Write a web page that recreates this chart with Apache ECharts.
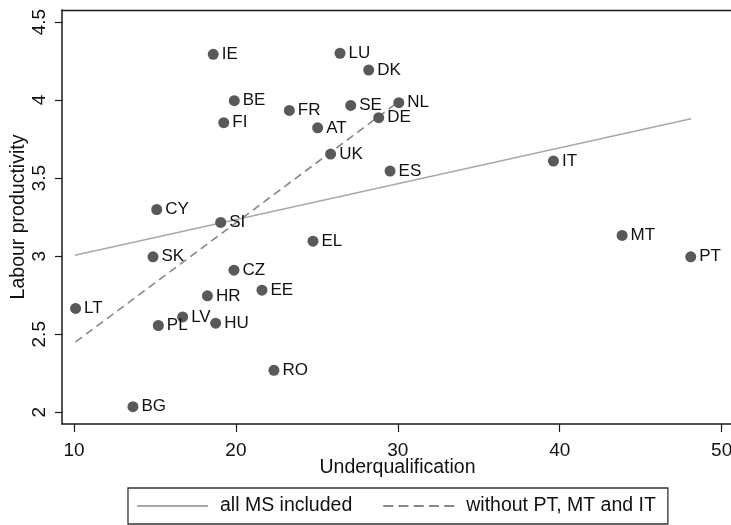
<!DOCTYPE html>
<html>
<head>
<meta charset="utf-8">
<script src="https://cdn.jsdelivr.net/npm/echarts@6/dist/echarts.min.js"></script>
<style>
html,body{margin:0;padding:0;background:#fff;}
#chart{width:731px;height:525px;}
</style>
</head>
<body>
<div id="chart"></div>
<script>
const countries = ['IE','LU','DK','BE','FI','FR','SE','NL','DE','AT','UK','ES','IT','MT','PT','CY','SI','SK','EL','CZ','EE','HR','LT','LV','PL','HU','RO','BG'];
const underqualification = [18.60,26.43,28.20,19.90,19.25,23.30,27.09,30.06,28.82,25.05,25.85,29.52,39.61,43.85,48.09,15.11,19.06,14.88,24.76,19.88,21.61,18.24,10.10,16.71,15.21,18.75,22.35,13.64];
const productivity = [4.293,4.30,4.192,3.996,3.855,3.934,3.966,3.983,3.887,3.822,3.654,3.545,3.609,3.133,2.996,3.299,3.216,2.996,3.096,2.91,2.782,2.746,2.665,2.611,2.556,2.571,2.269,2.036];
const fitAllX = [10.06, 48.11];
const fitAllY = [3.006, 3.880];
const fitSubX = [10.10, 30.06];
const fitSubY = [2.451, 3.990];
const xTicks = [10,20,30,40,50];
const yTicks = [2,2.5,3,3.5,4,4.5];
const seriesNames = ['all MS included','without PT, MT and IT'];

const font = 'Arial, "Liberation Sans", sans-serif';
const chart = echarts.init(document.getElementById('chart'), null, {renderer:'canvas'});
const pts = countries.map((c,i)=>[underqualification[i], productivity[i], c]);
const xMin = 9.26, xMax = 50.70;
const solidIcon = 'path://M0,0h71v2h-71z';
const dashIcon = 'path://M0,0h10v2h-10z M15.25,0h10v2h-10z M30.5,0h10v2h-10z M45.75,0h10v2h-10z M61,0h10v2h-10z';
chart.setOption({
  animation:false,
  backgroundColor:'#fff',
  textStyle:{fontFamily:font},
  grid:{left:62, top:10, width:671, bottom:101, show:false, outerBoundsMode:'none', containLabel:false},
  xAxis:[{
    type:'value', min:xMin, max:xMax,
    splitLine:{show:false},
    axisLine:{lineStyle:{color:'#1a1a1a', width:1.5}},
    axisTick:{customValues:xTicks, length:8, lineStyle:{color:'#1a1a1a', width:1.2}},
    axisLabel:{customValues:xTicks, margin:17, color:'#111', fontSize:19, fontFamily:font},
    name:'Underqualification', nameLocation:'middle', nameGap:34, nameMoveOverlap:false,
    nameTextStyle:{color:'#111', fontSize:19.5, fontFamily:font}
  },{
    type:'value', min:xMin, max:xMax, position:'top',
    splitLine:{show:false},
    axisLine:{show:true, lineStyle:{color:'#1a1a1a', width:1.3}},
    axisTick:{show:false}, axisLabel:{show:false}
  }],
  yAxis:{
    type:'value', min:1.925, max:4.577,
    splitLine:{show:false},
    axisLine:{show:true, lineStyle:{color:'#1a1a1a', width:1.5}},
    axisTick:{show:true, customValues:yTicks, length:7, lineStyle:{color:'#1a1a1a', width:1.2}},
    axisLabel:{customValues:yTicks, rotate:90, margin:13, color:'#111', fontSize:19, fontFamily:font},
    name:'Labour productivity', nameLocation:'middle', nameGap:33, nameRotate:90, nameMoveOverlap:false,
    nameTextStyle:{color:'#111', fontSize:19.5, fontFamily:font}
  },
  legend:{
    data:[{name:seriesNames[0], icon:solidIcon},{name:seriesNames[1], icon:dashIcon}],
    left:128, top:488,
    orient:'horizontal',
    padding:[8,12,8,9],
    itemWidth:71, itemHeight:2, itemGap:31,
    borderColor:'#333', borderWidth:1.3,
    textStyle:{fontSize:19.5, color:'#111', fontFamily:font, padding:[0,0,0,7]}
  },
  series:[
    {
      name:seriesNames[0], type:'line', data:fitAllX.map((x,i)=>[x,fitAllY[i]]),
      symbol:'none', lineStyle:{color:'#a8a8a8', width:1.6, type:'solid'}, itemStyle:{color:'#a8a8a8'}, z:2
    },
    {
      name:seriesNames[1], type:'line', data:fitSubX.map((x,i)=>[x,fitSubY[i]]),
      symbol:'none', lineStyle:{color:'#888', width:1.6, type:[8,5]}, itemStyle:{color:'#888'}, z:2
    },
    {
      name:'points', type:'scatter', data:pts, symbolSize:11,
      itemStyle:{color:'#58585d', opacity:1},
      label:{show:true, position:'right', distance:3, formatter:p=>p.data[2], fontSize:17, color:'#111', fontFamily:font},
      z:3
    }
  ]
});
</script>
</body>
</html>
